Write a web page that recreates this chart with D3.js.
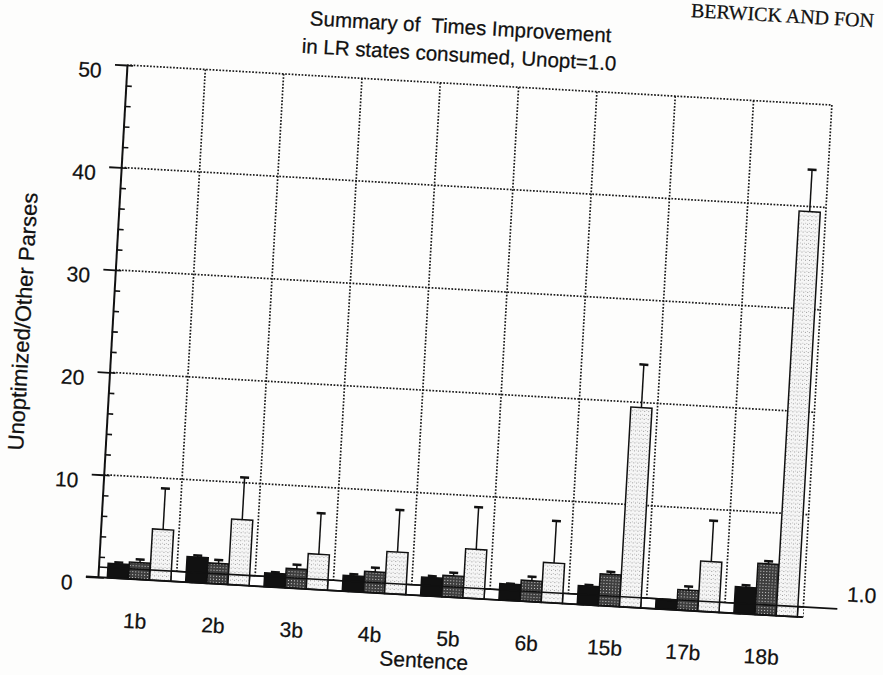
<!DOCTYPE html>
<html>
<head>
<meta charset="utf-8">
<script src="https://cdn.jsdelivr.net/npm/d3@7"></script>
<style>
  body { margin: 0; background: #fff; }
  text { font-family: "Liberation Sans", Arial, Helvetica, sans-serif; fill: #111; stroke: #111; stroke-width: 0.25px; }
</style>
</head>
<body>
<div id="my_dataviz"></div>
<script>

// values
const sentences = ["1b", "2b", "3b", "4b", "5b", "6b", "15b", "17b", "18b"];
const blackVals = [1.4, 2.5, 1.35, 1.55, 1.8, 1.6, 1.85, 0.9, 2.6];
const blackErr  = [1.55, 2.65, 1.45, 1.7, 1.95, 1.65, 1.95, 0.95, 2.8];
const darkVals  = [1.65, 2.0, 1.9, 2.05, 2.1, 2.05, 3.1, 2.0, 5.0];
const darkErr   = [1.95, 2.35, 2.3, 2.45, 2.4, 2.45, 3.35, 2.35, 5.25];
const lightVals = [5.0, 6.4, 3.45, 4.1, 4.8, 3.9, 19.5, 4.9, 39.5];
const lightErr  = [9.0, 10.5, 7.45, 8.2, 8.9, 8.0, 23.7, 8.9, 43.6];
const unoptVals = [1.0, 1.0, 1.0, 1.0, 1.0, 1.0, 1.0, 1.0, 1.0];
const yTicks = [0, 10, 20, 30, 40, 50];
const unoptLevel = 1.0;

// set the dimensions and margins of the graph
const margin = {top: 65, left: 127},
    width = 706,
    height = 513;
const tilt = 3.25;   // the page sits a little crooked on the scanner

// append the svg object to the body of the page
const root = d3.select("#my_dataviz")
  .append("svg")
    .attr("width", 883)
    .attr("height", 675);

root.append("rect")
    .attr("width", 883)
    .attr("height", 675)
    .attr("fill", "#fdfdfc");

// stipple fills
const defs = root.append("defs");
const dark = defs.append("pattern")
    .attr("id", "darkDots")
    .attr("patternUnits", "userSpaceOnUse")
    .attr("width", 3).attr("height", 3);
dark.append("rect").attr("width", 3).attr("height", 3).attr("fill", "#3e3e3e");
dark.append("rect").attr("x", 1).attr("y", 1).attr("width", 1).attr("height", 1).attr("fill", "#cfcfcf");
const light = defs.append("pattern")
    .attr("id", "lightDots")
    .attr("patternUnits", "userSpaceOnUse")
    .attr("width", 4).attr("height", 4);
light.append("rect").attr("width", 4).attr("height", 4).attr("fill", "#f6f6f6");
light.append("rect").attr("x", 0).attr("y", 0).attr("width", 1).attr("height", 1).attr("fill", "#9a9a9a");
light.append("rect").attr("x", 2).attr("y", 3).attr("width", 1).attr("height", 1).attr("fill", "#bdbdbd");

defs.append("clipPath").attr("id", "plotClip")
  .append("rect")
    .attr("x", 0).attr("y", -5)
    .attr("width", width).attr("height", height + 10);

const svg = root.append("g")
    .attr("transform", `translate(${margin.left},${margin.top}) rotate(${tilt})`);

// scales
const x = d3.scaleBand()
    .domain(sentences)
    .range([0, width])
    .padding(0);
const y = d3.scaleLinear()
    .domain([0, 50])
    .range([height, 0]);

const bw = x.bandwidth() * 0.27;     // each bar
const offset = x.bandwidth() * 0.12; // gap before the first bar

// dotted grid
svg.append("g")
  .selectAll("line")
  .data(yTicks.slice(1))
  .join("line")
    .attr("x1", 0)
    .attr("x2", width)
    .attr("y1", d => y(d))
    .attr("y2", d => y(d))
    .attr("stroke", "#1a1a1a")
    .attr("stroke-width", 1.7)
    .attr("stroke-dasharray", "1.7,1.6");

svg.append("g")
  .selectAll("line")
  .data(sentences)
  .join("line")
    .attr("x1", d => x(d) + x.bandwidth())
    .attr("x2", d => x(d) + x.bandwidth())
    .attr("y1", 0)
    .attr("y2", height)
    .attr("stroke", "#1a1a1a")
    .attr("stroke-width", 1.7)
    .attr("stroke-dasharray", "1.7,1.6");

// bars: unopt first so the next group's black bar covers its overhang
const series = [
  {vals: unoptVals, err: null, slot: 3, fill: "#ffffff"},
  {vals: blackVals, err: blackErr, slot: 0, fill: "#111111"},
  {vals: darkVals, err: darkErr, slot: 1, fill: "url(#darkDots)"},
  {vals: lightVals, err: lightErr, slot: 2, fill: "url(#lightDots)"}
];

const bars = svg.append("g").attr("clip-path", "url(#plotClip)");

series.forEach(function(s) {
  const rows = sentences.map((name, i) => ({name: name, v: s.vals[i], e: s.err ? s.err[i] : null}));
  const bx = d => x(d.name) + offset + s.slot * bw;

  bars.selectAll(null)
    .data(rows)
    .join("rect")
      .attr("x", bx)
      .attr("y", d => y(d.v))
      .attr("width", bw)
      .attr("height", d => height - y(d.v))
      .attr("fill", s.fill)
      .attr("stroke", "#111")
      .attr("stroke-width", 1.5);

  if (s.err) {
    // error whisker on top only
    svg.selectAll(null)
      .data(rows)
      .join("line")
        .attr("x1", d => bx(d) + bw / 2)
        .attr("x2", d => bx(d) + bw / 2)
        .attr("y1", d => y(d.v))
        .attr("y2", d => y(d.e))
        .attr("stroke", "#111")
        .attr("stroke-width", 1.5);
    svg.selectAll(null)
      .data(rows)
      .join("line")
        .attr("x1", d => bx(d) + bw / 2 - 4.5)
        .attr("x2", d => bx(d) + bw / 2 + 4.5)
        .attr("y1", d => y(d.e))
        .attr("y2", d => y(d.e))
        .attr("stroke", "#111")
        .attr("stroke-width", 2.5);
  }
});

// baseline and the unopt = 1.0 reference line
svg.append("line")
    .attr("x1", -12).attr("x2", width)
    .attr("y1", y(0)).attr("y2", y(0))
    .attr("stroke", "#111")
    .attr("stroke-width", 1.8);
svg.append("line")
    .attr("x1", 0).attr("x2", width + 34)
    .attr("y1", y(unoptLevel)).attr("y2", y(unoptLevel))
    .attr("stroke", "#111")
    .attr("stroke-width", 1.6);
svg.append("text")
    .attr("x", width + 43)
    .attr("y", y(unoptLevel) - 8)
    .style("font-size", "21px")
    .text(unoptLevel.toFixed(1));

// Y axis: major ticks outside, minor ticks inside
const yAxis = svg.append("g")
    .call(d3.axisLeft(y).tickValues(yTicks).tickSize(12).tickSizeOuter(0).tickPadding(13));
yAxis.select(".domain").attr("stroke", "#111").attr("stroke-width", 2);
yAxis.selectAll(".tick line").attr("stroke", "#111").attr("stroke-width", 1.8);
yAxis.selectAll("text")
    .attr("dy", 13.5)
    .style("font-size", "21px")
    .style("font-family", "Liberation Sans, Arial, sans-serif")
    .attr("fill", "#111");

const minor = svg.append("g")
    .call(d3.axisRight(y).ticks(25).tickSize(6).tickSizeOuter(0).tickFormat(""));
minor.select(".domain").remove();
minor.selectAll(".tick line").attr("stroke", "#111").attr("stroke-width", 1.6);

// X labels
svg.append("g")
  .selectAll("text")
  .data(sentences)
  .join("text")
    .attr("x", d => x(d) + x.bandwidth() / 2)
    .attr("y", height + 49)
    .attr("text-anchor", "middle")
    .style("font-size", "21px")
    .text(d => d);

svg.append("text")
    .attr("x", 330)
    .attr("y", height + 72)
    .attr("text-anchor", "middle")
    .style("font-size", "21px")
    .text("Sentence");

svg.append("text")
    .attr("transform", `translate(-82,262) rotate(-90)`)
    .attr("text-anchor", "middle")
    .style("font-size", "22px")
    .text("Unoptimized/Other Parses");

// title
svg.append("text")
    .attr("x", 331)
    .attr("y", -50)
    .attr("text-anchor", "middle")
    .style("font-size", "20.5px")
    .style("white-space", "pre")
    .text("Summary of  Times Improvement");
svg.append("text")
    .attr("x", 331)
    .attr("y", -22)
    .attr("text-anchor", "middle")
    .style("font-size", "20.5px")
    .text("in LR states consumed, Unopt=1.0");

// running head of the printed page (only this much shows on the scan)
svg.append("text")
    .attr("x", 560)
    .attr("y", -80)
    .style("font-family", "Liberation Serif, 'Times New Roman', serif")
    .style("font-size", "20px")
    .text("BERWICK AND FON");

</script>
</body>
</html>
